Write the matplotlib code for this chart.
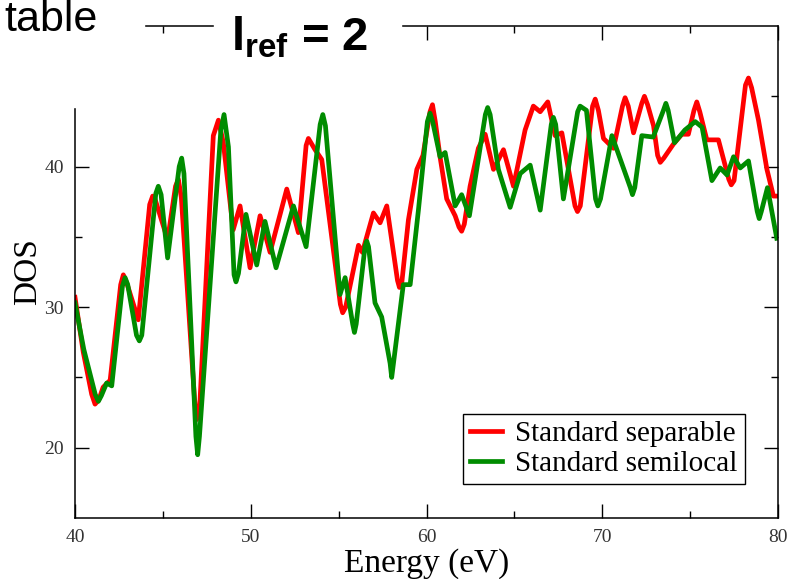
import matplotlib
matplotlib.use("Agg")
import matplotlib.pyplot as plt
from matplotlib.patches import Rectangle

# DOS curves (energy in eV, DOS)
sep_energy = [40.0, 40.47, 40.95, 41.14, 41.35, 41.6, 42.0, 42.6, 42.75, 42.95,
              43.6, 44.25, 44.42, 44.55, 45.27, 45.72, 45.88, 46.05, 46.8, 46.92,
              47.1, 47.87, 48.16, 48.44, 49.0, 49.39, 49.96, 50.53, 51.1, 52.05,
              52.71, 53.15, 53.28, 53.66, 54.04, 55.1, 55.23, 55.4, 56.13, 56.35,
              56.98, 57.36, 57.74, 58.35, 58.46, 58.6, 58.97, 59.45, 59.8, 60.2,
              60.34, 60.5, 60.77, 61.15, 61.63, 61.85, 62.0, 62.15, 62.48, 62.95,
              63.34, 63.81, 64.38, 64.95, 65.61, 66.08, 66.47, 66.9, 67.32, 67.7,
              68.45, 68.59, 68.75, 69.45, 69.6, 69.78, 70.07, 70.64, 71.15, 71.3,
              71.48, 71.78, 72.25, 72.4, 72.58, 72.92, 73.15, 73.3, 73.5, 74.05,
              74.53, 74.9, 75.22, 75.38, 75.55, 75.95, 76.61, 77.2, 77.34, 77.5,
              78.15, 78.32, 78.5, 78.89, 79.37, 79.74, 80.0]
sep_dos = [30.7, 26.8, 23.8, 23.1, 23.4, 24.3, 24.8, 31.6, 32.3, 31.7,
           29.1, 37.3, 37.9, 37.7, 34.8, 38.6, 39.1, 37.8, 23.5, 22.0,
           23.0, 42.2, 43.3, 41.7, 35.5, 37.2, 32.8, 36.5, 33.9, 38.4,
           35.3, 41.5, 42.0, 41.2, 40.5, 30.2, 29.6, 30.0, 34.4, 33.9,
           36.7, 36.0, 37.2, 31.9, 31.4, 31.8, 36.2, 39.8, 40.8, 43.9,
           44.4, 43.2, 40.7, 37.7, 36.5, 35.7, 35.4, 35.9, 38.6, 41.3,
           42.3, 39.8, 41.2, 38.6, 42.6, 44.3, 43.9, 44.6, 42.2, 42.4,
           37.2, 36.8, 37.2, 44.3, 44.8, 44.0, 42.0, 41.3, 44.3, 44.9,
           44.3, 42.4, 44.5, 45.0, 44.4, 42.9, 40.8, 40.3, 40.6, 41.6,
           42.3, 42.3, 44.0, 44.6, 43.9, 41.9, 41.9, 39.1, 38.7, 39.0,
           45.8, 46.3, 45.6, 43.3, 39.8, 37.9, 37.9]

semi_energy = [40.0, 40.5, 41.15, 41.33, 41.5, 41.8, 42.09, 42.7, 42.85, 43.0,
               43.5, 43.66, 43.8, 44.6, 44.74, 44.9, 45.27, 45.93, 46.07, 46.2,
               46.88, 46.98, 47.08, 48.3, 48.48, 48.73, 49.05, 49.16, 49.3, 49.73,
               50.34, 50.81, 51.44, 52.43, 53.15, 53.95, 54.1, 54.25, 55.08, 55.37,
               55.8, 55.9, 56.0, 56.5, 56.6, 56.7, 57.07, 57.45, 57.93, 58.02,
               58.12, 58.68, 59.07, 59.54, 60.05, 60.2, 60.35, 60.77, 61.06, 61.63,
               62.0, 62.44, 63.35, 63.48, 63.62, 64.09, 64.76, 65.33, 65.9, 66.47,
               67.1, 67.22, 67.35, 67.79, 68.6, 68.74, 69.1, 69.62, 69.75, 69.9,
               70.55, 71.6, 71.72, 71.85, 72.25, 72.9, 73.48, 73.62, 73.75, 74.11,
               74.7, 75.29, 75.68, 76.24, 76.71, 77.1, 77.47, 77.85, 78.32, 78.82,
               78.93, 79.05, 79.4, 79.93]
semi_dos = [30.3, 27.0, 23.8, 23.3, 23.7, 24.6, 24.4, 31.5, 32.1, 31.6,
            28.0, 27.6, 28.0, 38.1, 38.6, 38.0, 33.5, 40.0, 40.6, 39.5,
            20.8, 19.5, 20.8, 42.6, 43.7, 41.4, 32.3, 31.8, 32.4, 36.6,
            33.0, 36.1, 32.8, 37.2, 34.3, 43.0, 43.7, 42.9, 30.9, 32.1,
            28.8, 28.2, 28.8, 34.3, 34.7, 34.3, 30.3, 29.3, 26.0, 25.0,
            26.0, 31.6, 31.6, 36.9, 43.2, 43.8, 43.2, 40.7, 41.0, 37.2,
            38.0, 36.5, 43.7, 44.2, 43.7, 39.8, 37.1, 39.5, 40.1, 36.9,
            43.0, 43.5, 43.0, 37.7, 43.9, 44.3, 44.0, 37.7, 37.2, 37.7,
            42.2, 38.5, 38.0, 38.5, 42.2, 42.1, 44.0, 44.5, 44.0, 41.7,
            42.6, 43.2, 42.8, 39.0, 39.9, 39.4, 40.7, 39.9, 40.4, 36.8,
            36.3, 36.8, 38.5, 34.9]

W, H = 791, 579
fig = plt.figure(figsize=(W / 100, H / 100), dpi=100)
ax = fig.add_axes([75 / W, 1 - 518 / H, 703 / W, 492 / H])

ax.plot(sep_energy, sep_dos, color="#ff0000", lw=3.4, label="Standard separable")
ax.plot(semi_energy, semi_dos, color="#008c00", lw=3.4, label="Standard semilocal")

ax.set_xlim(40, 80)
ax.set_ylim(15, 50)
ax.set_xticks([40, 50, 60, 70, 80])
ax.set_xticks([45, 55, 65, 75], minor=True)
ax.set_yticks([20, 30, 40])
ax.set_yticks([25, 35, 45], minor=True)
ax.tick_params(which="both", direction="in", top=True, right=True, width=1,
               color="black")
ax.tick_params(which="major", length=10, labelsize=14, labelcolor="#333333", pad=8)
ax.tick_params(which="minor", length=5)
for lab in ax.get_xticklabels() + ax.get_yticklabels():
    lab.set_family("Liberation Serif")
for sp in ax.spines.values():
    sp.set_linewidth(1.1)

ax.set_xlabel("Energy (eV)", fontsize=24, family="Liberation Serif")
ax.set_ylabel("DOS", fontsize=24, family="Liberation Serif")
ax.xaxis.set_label_coords(0.5, -0.062)
ax.yaxis.set_label_coords(-0.046, 0.5)

leg = ax.legend(loc="lower right", bbox_to_anchor=(0.953, 0.069),
                prop={"family": "Liberation Serif", "size": 21},
                frameon=True, fancybox=False, framealpha=1, edgecolor="black",
                handlelength=1.1, handletextpad=0.45, labelspacing=0.1,
                borderpad=0.25, borderaxespad=0)
leg.get_frame().set_linewidth(1)

# slide overlay: white boxes hiding the corner and the area behind the title
fig.patches.append(Rectangle((0, 1 - 107 / H), 144 / W, 107 / H,
                             transform=fig.transFigure, color="white", zorder=10))
fig.patches.append(Rectangle((214 / W, 1 - 70 / H), 187 / W, 70 / H,
                             transform=fig.transFigure, color="white", zorder=10))

plt.rcParams["mathtext.fontset"] = "custom"
plt.rcParams["mathtext.bf"] = "Liberation Sans:bold"
plt.rcParams["mathtext.rm"] = "Liberation Sans:bold"
fig.text(98 / W, 1 - 31 / H, "table", ha="right", va="baseline", fontsize=31,
         family="Liberation Sans", zorder=11)
fig.text(300 / W, 1 - 50 / H, r"$\mathbf{l_{ref}}$ = 2", ha="center",
         va="baseline", fontsize=34, fontweight="bold", family="Liberation Sans",
         zorder=11)

fig.savefig("out.png", dpi=100)
